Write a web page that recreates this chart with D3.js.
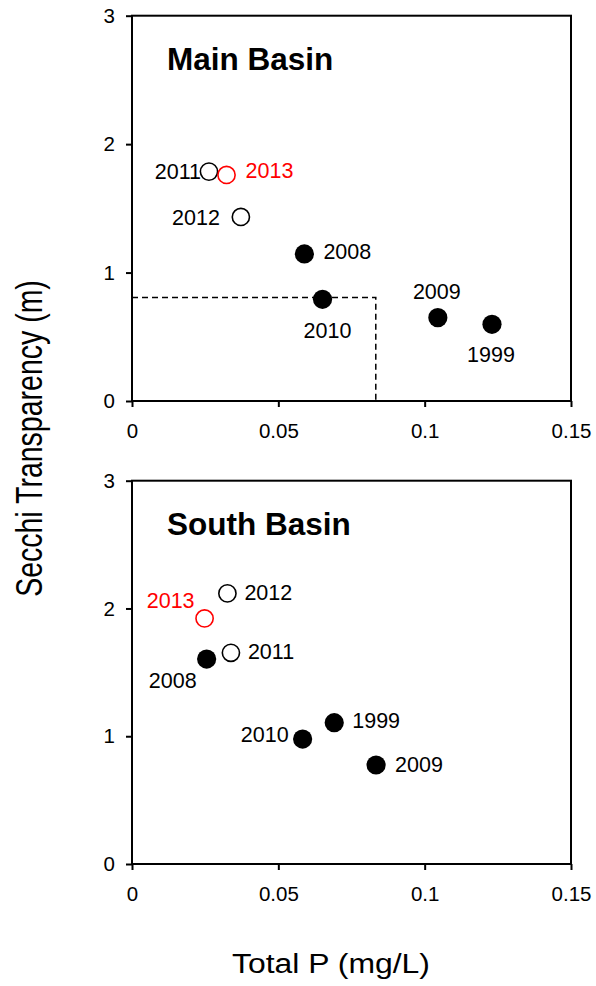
<!DOCTYPE html>
<html>
<head>
<meta charset="utf-8">
<script src="https://cdn.jsdelivr.net/npm/d3@7/dist/d3.min.js"></script>
<style>
  html, body { margin: 0; padding: 0; background: #fff; }
  svg { display: block; font-family: "Liberation Sans", Arial, sans-serif; }
</style>
</head>
<body>
<svg id="chart" width="596" height="986"></svg>
<script>
// ---- data ----
const xTickValues = [0, 0.05, 0.1, 0.15];
const xTickLabels = ["0", "0.05", "0.1", "0.15"];
const yTickValues = [0, 1, 2, 3];
const yTickLabels = ["0", "1", "2", "3"];

const mainYears   = ["2011", "2013", "2012", "2008", "2010", "2009", "1999"];
const mainTP      = [0.0263, 0.0323, 0.0372, 0.0589, 0.0651, 0.1045, 0.1230];
const mainSecchi  = [1.786, 1.760, 1.433, 1.145, 0.792, 0.649, 0.597];
const mainKind    = ["open", "red", "open", "filled", "filled", "filled", "filled"];

const southYears  = ["2012", "2013", "2011", "2008", "2010", "1999", "2009"];
const southTP     = [0.0326, 0.0248, 0.0338, 0.0255, 0.0583, 0.0691, 0.0834];
const southSecchi = [2.118, 1.922, 1.653, 1.604, 0.978, 1.106, 0.775];
const southKind   = ["open", "red", "open", "filled", "filled", "filled", "filled"];

const mainRefTP = 0.0833;
const mainRefSecchi = 0.805;

const panelTitles = ["Main Basin", "South Basin"];
const xTitle = "Total P (mg/L)";
const yTitle = "Secchi Transparency (m)";

// ---- layout (label placement offsets in px relative to point) ----
const mainLabelPos = {
  "2011": [-8, 7, "end"], "2013": [19, 3, "start"], "2012": [-21, 8, "end"],
  "2008": [19, 5, "start"], "2010": [5, 39, "middle"], "2009": [-1, -19, "middle"],
  "1999": [-1, 38, "middle"]
};
const southLabelPos = {
  "2012": [17, 7, "start"], "2013": [-10, -10, "end"], "2011": [17, 6, "start"],
  "2008": [-10, 29, "end"], "2010": [-14, 3, "end"], "1999": [18, 5, "start"],
  "2009": [19, 7, "start"]
};

const svg = d3.select("#chart");
const X0 = 132, X1 = 571;
const panels = [
  { top: 15.7, bottom: 401, tp: mainTP, sd: mainSecchi, yr: mainYears, kind: mainKind, lab: mainLabelPos, title: panelTitles[0], ref: true },
  { top: 480.7, bottom: 864, tp: southTP, sd: southSecchi, yr: southYears, kind: southKind, lab: southLabelPos, title: panelTitles[1], ref: false }
];

const x = d3.scaleLinear().domain([0, 0.15]).range([X0, X1]);

panels.forEach(p => {
  const y = d3.scaleLinear().domain([0, 3]).range([p.bottom, p.top]);
  const g = svg.append("g");

  // frame
  g.append("rect")
    .attr("x", X0).attr("y", p.top)
    .attr("width", X1 - X0).attr("height", p.bottom - p.top)
    .attr("fill", "none").attr("stroke", "#000").attr("stroke-width", 2);

  // axes
  const ax = g.append("g").attr("transform", `translate(0,${p.bottom})`)
    .call(d3.axisBottom(x).tickValues(xTickValues)
      .tickFormat((d, i) => xTickLabels[i]).tickSize(6).tickSizeOuter(0).tickPadding(16));
  const ay = g.append("g").attr("transform", `translate(${X0},0)`)
    .call(d3.axisLeft(y).tickValues(yTickValues)
      .tickFormat((d, i) => yTickLabels[i]).tickSize(6).tickSizeOuter(0).tickPadding(11));
  [ax, ay].forEach(a => {
    a.select(".domain").remove();
    a.selectAll(".tick line").attr("stroke", "#000").attr("stroke-width", 2);
    a.selectAll(".tick text").attr("fill", "#000")
      .style("font-family", "'Liberation Sans', Arial, sans-serif").style("font-size", "20.5px");
  });

  // reference dashed lines
  if (p.ref) {
    g.append("path")
      .attr("d", `M${x(0)},${y(mainRefSecchi)}H${x(mainRefTP)}V${y(0)}`)
      .attr("fill", "none").attr("stroke", "#000")
      .attr("stroke-width", 1.5).attr("stroke-dasharray", "6,4");
  }

  // panel title
  g.append("text").attr("x", 167).attr("y", p.top + 54)
    .attr("font-size", 31.5).attr("font-weight", "bold").attr("fill", "#000")
    .text(p.title);

  // points
  const pts = p.yr.map((yr, i) => ({ yr, tp: p.tp[i], sd: p.sd[i], kind: p.kind[i] }));
  g.selectAll("circle.pt").data(pts).enter().append("circle")
    .attr("class", "pt")
    .attr("cx", d => x(d.tp)).attr("cy", d => y(d.sd))
    .attr("r", d => d.kind === "filled" ? 9.6 : 8.6)
    .attr("fill", d => d.kind === "filled" ? "#000" : "none")
    .attr("stroke", d => d.kind === "red" ? "#ff0000" : "#000")
    .attr("stroke-width", d => d.kind === "filled" ? 0 : 1.6);

  g.selectAll("text.lab").data(pts).enter().append("text")
    .attr("class", "lab")
    .attr("x", d => x(d.tp) + p.lab[d.yr][0])
    .attr("y", d => y(d.sd) + p.lab[d.yr][1])
    .attr("text-anchor", d => p.lab[d.yr][2])
    .attr("font-size", 21.5)
    .attr("fill", d => d.kind === "red" ? "#ff0000" : "#000")
    .text(d => d.yr);
});

// axis titles
svg.append("text")
  .attr("x", 331).attr("y", 972.5)
  .attr("text-anchor", "middle").attr("font-size", 27)
  .attr("textLength", 198).attr("lengthAdjust", "spacingAndGlyphs")
  .text(xTitle);

svg.append("text")
  .attr("transform", "translate(41.5,438.5) rotate(-90) scale(1,1.3)")
  .attr("text-anchor", "middle").attr("font-size", 28.5)
  .text(yTitle);
</script>
</body>
</html>
